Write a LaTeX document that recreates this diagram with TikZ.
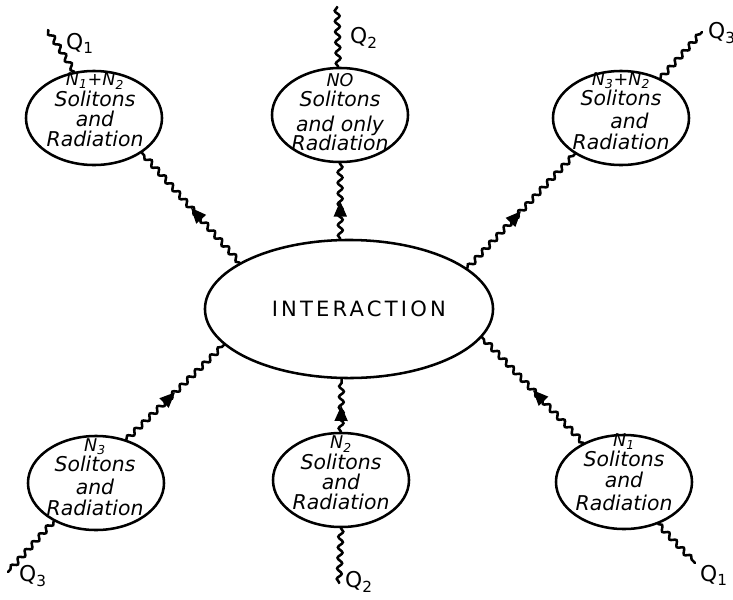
\documentclass[tikz,border=0pt]{standalone}
\usepackage{fontspec}
\setmainfont{DejaVu Sans}
\usetikzlibrary{arrows.meta,shapes.geometric,decorations.pathmorphing,decorations.markings}

\begin{document}
\begin{tikzpicture}[x=0.025cm,y=-0.025cm,line width=1.8pt,line cap=round,
  blob/.style={draw,ellipse,inner sep=0pt,minimum width=3.4cm,minimum height=2.35cm},
  blobtext/.style={align=center,font=\fontsize{14.5}{14.5}\selectfont\itshape},
  wave/.style={decorate,decoration={snake,amplitude=1.7pt,segment length=7.5pt}},
  midarrow/.style={decorate,decoration={markings,mark=at position 0.5 with {\arrow{Triangle[length=11pt,width=9pt]}}}},
  qlab/.style={font=\fontsize{15.5}{15.5}\selectfont}]
\useasboundingbox (0,0) rectangle (733,600);
% interaction
\node[draw,ellipse,inner sep=0pt,minimum width=7.2cm,minimum height=3.45cm,
  font=\fontsize{15}{15}\selectfont\addfontfeature{LetterSpace=15}] (inter) at (349,309) {\hspace*{14pt}INTERACTION};
% outgoing states
\node[blob] (e1) at (94,118) {};
\node[blobtext] (t1) at (95,110) {{\fontsize{12.5}{12.5}\selectfont N\textsubscript{1}+N\textsubscript{2}}\\Solitons\\and\\Radiation};
\node[blob] (e2) at (340,115) {};
\node[blobtext] (t2) at (340,112) {{\fontsize{12.5}{12.5}\selectfont NO}\\Solitons\\[3pt]and only\\[-1pt]Radiation};
\node[blob] (e3) at (621,118) {};
\node[blobtext] (t3) at (621,111) {{\fontsize{12.5}{12.5}\selectfont N\textsubscript{3}+N\textsubscript{2}}\\Solitons\\[2pt]\hspace*{12pt}and\\Radiation};
% incoming states
\node[blob] (e4) at (96,483) {};
\node[blobtext] (t4) at (95,477) {{\fontsize{12.5}{12.5}\selectfont N\textsubscript{3}}\\Solitons\\[2pt]and\\Radiation};
\node[blob] (e5) at (341,480) {};
\node[blobtext] (t5) at (341,473) {{\fontsize{12.5}{12.5}\selectfont N\textsubscript{2}}\\Solitons\\and\\Radiation};
\node[blob] (e6) at (624,482) {};
\node[blobtext] (t6) at (624,472) {{\fontsize{12.5}{12.5}\selectfont N\textsubscript{1}}\\Solitons\\and\\[2pt]Radiation};
% free ends
\coordinate (q1a) at (48,30);
\coordinate (q2a) at (337,7);
\coordinate (q3a) at (702,32);
\coordinate (q3b) at (8,572);
\coordinate (q2b) at (339,583);
\coordinate (q1b) at (695,563);
\node[qlab] (l1a) at (80,43) {Q\textsubscript{1}};
\node[qlab] (l2a) at (364,38) {Q\textsubscript{2}};
\node[qlab] (l3a) at (722,33) {Q\textsubscript{3}};
\node[qlab] (l3b) at (33,576) {Q\textsubscript{3}};
\node[qlab] (l2b) at (359,582) {Q\textsubscript{2}};
\node[qlab] (l1b) at (714,575) {Q\textsubscript{1}};
% lines to the interaction
\draw[wave] (inter.157) -- (e1.324);
\draw[midarrow] (inter.157) -- (e1.324);
\draw[wave] (inter.97) -- (e2.270);
\draw[midarrow] (inter.97) -- (e2.270);
\draw[wave] (inter.19) -- (e3.218);
\draw[midarrow] (inter.19) -- (e3.218);
\draw[wave] (e4.55) -- (inter.196);
\draw[midarrow] (e4.55) -- (inter.196);
\draw[wave] (e5.90) -- (inter.264);
\draw[midarrow] (e5.90) -- (inter.264);
\draw[wave] (e6.136) -- (inter.348);
\draw[midarrow] (e6.136) -- (inter.348);
% lines to the charges
\draw[wave] (e1.113) -- (q1a);
\draw[wave] (e2.92) -- (q2a);
\draw[wave] (e3.45) -- (q3a);
\draw[wave] (e4.222) -- (q3b);
\draw[wave] (e5.270) -- (q2b);
\draw[wave] (e6.309) -- (q1b);
\end{tikzpicture}
\end{document}
